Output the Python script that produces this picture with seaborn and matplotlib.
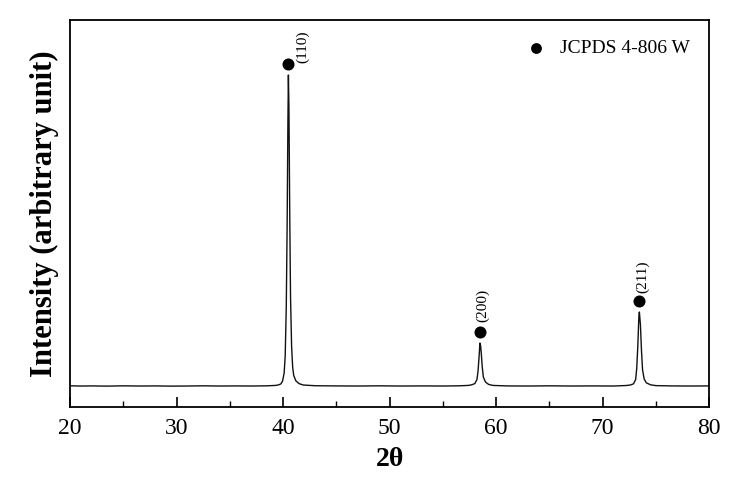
import numpy as np
import pandas as pd
import matplotlib
matplotlib.use("Agg")
import matplotlib.pyplot as plt
import seaborn as sns
from matplotlib.ticker import MultipleLocator

# XRD trace (2theta, counts)
two_theta = [20.0, 21.0, 22.0, 23.5, 25.0, 26.5, 28.0, 29.5, 31.0, 32.5, 34.0, 35.5, 37.0, 38.5,
             39.3, 39.6, 39.8, 39.95, 40.1, 40.2, 40.3, 40.38, 40.45, 40.5, 40.55, 40.62, 40.7,
             40.8, 40.9, 41.0, 41.2, 41.5, 41.9, 43.0, 45.0, 47.0, 49.0, 51.0, 53.0, 55.0, 56.5,
             57.4, 57.7, 58.0, 58.2, 58.3, 58.4, 58.48, 58.55, 58.62, 58.7, 58.8, 59.0, 59.3,
             59.7, 61.0, 63.0, 65.0, 67.0, 69.0, 71.0, 72.2, 72.6, 72.9, 73.1, 73.2, 73.3, 73.4,
             73.45, 73.55, 73.65, 73.75, 73.9, 74.1, 74.5, 75.0, 76.5, 78.0, 80.0]
intensity = [212, 210, 211, 209, 212, 210, 211, 209, 210, 212, 210, 211, 210, 212,
             216, 222, 232, 258, 340, 510, 1000, 1800, 2800, 3320, 3000, 2000, 1100,
             610, 400, 315, 262, 234, 220, 213, 211, 210, 212, 210, 211, 210, 212,
             216, 222, 234, 275, 355, 500, 640, 610, 520, 400, 300, 250, 226,
             216, 211, 210, 212, 210, 211, 210, 215, 220, 232, 275, 385, 600, 900,
             950, 820, 560, 370, 280, 242, 222, 214, 211, 210, 211]

# JCPDS 4-806 W reflections
peak_pos = [40.5, 58.5, 73.45]
marker_y = [3430, 750, 1060]
hkl = ["(110)", "(200)", "(211)"]
label_offset = [(10, 1), (1.5, 7), (2, 6)]

df = pd.DataFrame({"two_theta": two_theta, "intensity": intensity})
pk = pd.DataFrame({"pos": peak_pos, "y": marker_y})

sns.set_style("ticks")
plt.rcParams["font.family"] = ["Liberation Serif", "DejaVu Serif"]
plt.rcParams["text.color"] = "black"
plt.rcParams["axes.labelcolor"] = "black"
plt.rcParams["xtick.color"] = "black"
plt.rcParams["axes.edgecolor"] = "black"

fig = plt.figure(figsize=(7.38, 4.93), dpi=100)
ax = fig.add_axes([0.0949, 0.1744, 0.866, 0.785])

sns.lineplot(data=df, x="two_theta", y="intensity", ax=ax, color="#111111",
             linewidth=1.0, estimator=None, sort=False)
sns.scatterplot(data=pk, x="pos", y="y", ax=ax, color="black", s=75,
                edgecolor="black", linewidth=0, label="JCPDS 4-806 W", zorder=3)

for x, y, lab, off in zip(peak_pos, marker_y, hkl, label_offset):
    ax.annotate(lab, (x, y), xytext=off, textcoords="offset points",
                rotation=90, ha="center", va="bottom", fontsize=11)

ax.set_xlim(20, 80)
ax.set_ylim(0, 3870)
ax.set_yticks([])
ax.xaxis.set_major_locator(MultipleLocator(10))
ax.xaxis.set_minor_locator(MultipleLocator(5))
ax.tick_params(axis="x", which="major", direction="in", length=7, width=1.2,
               labelsize=17, pad=8)
ax.tick_params(axis="x", which="minor", direction="in", length=4, width=1.0)
for s in ax.spines.values():
    s.set_linewidth(1.3)
    s.set_visible(True)

ax.set_xlabel("2θ", fontsize=20, fontweight="bold", labelpad=6)
ax.set_ylabel("Intensity (arbitrary unit)", fontsize=22, fontweight="bold", labelpad=8)

leg = ax.legend(loc="upper right", frameon=False, fontsize=14, handletextpad=0.2,
                borderaxespad=0.6, borderpad=0.4, markerscale=0.9)

fig.savefig("out.png", dpi=100)
